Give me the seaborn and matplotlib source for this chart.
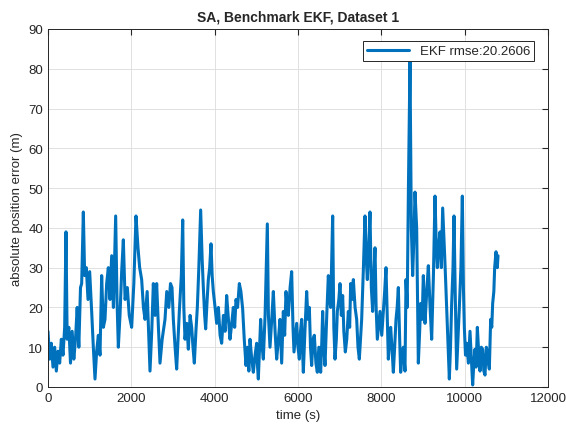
import numpy as np
import pandas as pd
import matplotlib
matplotlib.use('Agg')
import matplotlib.pyplot as plt
import seaborn as sns

# values (time in s, error in m)
time_s = [
    0, 40, 80, 120, 160, 200, 240, 280, 320, 360, 400, 432, 460, 500, 540, 580, 620, 660, 700, 740,
    780, 808, 848, 880, 920, 960, 1000, 1048, 1088, 1128, 1168, 1208, 1248, 1288, 1328, 1368, 1408,
    1448, 1488, 1528, 1570, 1624, 1656, 1688, 1728, 1768, 1808, 1850, 1904, 1950, 2008, 2060, 2112,
    2160, 2200, 2248, 2290, 2328, 2380, 2448, 2490, 2528, 2570, 2608, 2650, 2688, 2740, 2808, 2850,
    2900, 2940, 2976, 3008, 3050, 3088, 3120, 3152, 3200, 3233, 3260, 3288, 3330, 3368, 3410, 3448,
    3480, 3512, 3550, 3584, 3620, 3664, 3700, 3728, 3760, 3784, 3820, 3848, 3880, 3912, 3940, 3968,
    4010, 4048, 4090, 4130, 4168, 4210, 4250, 4288, 4330, 4368, 4410, 4448, 4480, 4512, 4550, 4592,
    4630, 4672, 4710, 4752, 4790, 4820, 4848, 4890, 4928, 4970, 5008, 5030, 5048, 5075, 5104, 5140,
    5168, 5210, 5264, 5290, 5328, 5370, 5408, 5450, 5488, 5530, 5568, 5608, 5648, 5680, 5712, 5740,
    5768, 5810, 5848, 5880, 5904, 5940, 5968, 6000, 6032, 6060, 6088, 6110, 6128, 6170, 6208, 6240,
    6272, 6300, 6328, 6360, 6392, 6430, 6464, 6500, 6544, 6570, 6592, 6620, 6648, 6690, 6728, 6760,
    6784, 6832, 6860, 6888, 6920, 6944, 6980, 7008, 7040, 7072, 7100, 7136, 7170, 7208, 7240, 7264,
    7300, 7328, 7370, 7408, 7440, 7472, 7500, 7528, 7570, 7608, 7640, 7664, 7700, 7728, 7760, 7792,
    7820, 7848, 7875, 7904, 7940, 7968, 8010, 8048, 8080, 8112, 8140, 8168, 8200, 8224, 8260, 8288,
    8320, 8352, 8380, 8408, 8440, 8464, 8500, 8528, 8568, 8592, 8620, 8650, 8688, 8720, 8752, 8780,
    8808, 8848, 8870, 8888, 8920, 8944, 8980, 9008, 9048, 9090, 9128, 9170, 9208, 9250, 9288, 9320,
    9344, 9380, 9408, 9440, 9472, 9500, 9528, 9560, 9584, 9610, 9632, 9660, 9688, 9720, 9744, 9776,
    9808, 9840, 9872, 9910, 9944, 9970, 9992, 10020, 10048, 10090, 10128, 10160, 10192, 10220, 10248,
    10275, 10304, 10340, 10368, 10400, 10432, 10460, 10488, 10520, 10544, 10570, 10592, 10624, 10650,
    10672, 10700, 10720, 10752, 10784, 10800,
]
error_m = [
    14, 7, 11, 5, 10, 4, 9, 6, 12, 8, 15, 39, 12, 15, 6, 14, 7, 12, 20, 10,
    25, 26, 44, 28, 30, 22, 29, 19, 10, 2, 9, 13, 8, 28, 15, 17, 26,
    30, 22, 33, 20, 43, 22, 10, 18, 29, 37, 22, 25, 18, 15, 26, 43,
    35, 30, 27, 20, 17, 24, 4, 14, 26, 18, 26, 15, 6, 12, 17, 24,
    20, 26, 25, 17, 10, 4.5, 12, 19, 28, 42, 20, 12, 16, 9.5, 18, 15,
    10, 6, 14, 20, 30, 44.5, 32, 25, 18, 14.6, 22, 27, 30, 36, 28, 24,
    20, 16, 20, 13, 11, 18, 14, 23, 17, 12, 16, 20, 15, 22, 20, 26,
    24, 19.6, 12, 5.4, 10, 4, 12, 7, 3.7, 8, 11, 5, 2, 9, 17, 10,
    7, 18, 41, 18, 10, 17, 24, 14, 7, 12, 17, 6, 19, 13, 24, 20,
    18, 25, 29, 15, 8.8, 13, 16, 10, 7, 14, 17, 9, 3.7, 15, 24, 17,
    20, 10, 5.4, 12, 13, 6, 3.7, 10, 3.7, 11, 19, 10, 5.4, 18, 28, 22,
    20, 43, 15, 7, 12, 19, 22, 26, 18, 23, 14, 8.8, 12, 19, 15, 26,
    22, 27, 20, 17, 10, 7, 12, 17, 30, 43, 32, 27, 36, 44, 25, 19,
    28, 35, 20, 12, 16, 19, 13, 19, 24, 30, 18, 7, 12, 15, 9, 3.7,
    10, 17, 20, 25, 12, 3.7, 8, 10, 4, 27, 20, 50, 82, 40, 28, 37,
    49, 40, 20, 6, 14, 21, 17, 28, 16, 24, 30.5, 20, 12, 28, 48, 35,
    30, 36, 39, 30, 45, 38, 31, 22, 15, 8, 2, 10, 21, 30, 43, 22,
    4.5, 12, 20, 30, 48, 25, 15, 8, 11, 6, 14, 7, 0.5, 6, 9.5,
    5, 15, 8, 4, 10, 9.5, 4, 3, 10, 9, 6, 4.5, 17, 15,
    21, 24, 30, 34, 30, 33,
]
legend_label = 'EKF rmse:20.2606'

df = pd.DataFrame({'time': time_s, 'error': error_m})

sns.set_style('white')
plt.rcParams['font.family'] = ['Liberation Sans', 'DejaVu Sans']

fig = plt.figure(figsize=(5.66, 4.31), dpi=100)
ax = fig.add_axes([0.0848, 0.0998, 0.8834, 0.8306])

sns.lineplot(data=df, x='time', y='error', ax=ax, color='#0072BD',
             linewidth=2.2, label=legend_label)

ax.set_xlim(0, 12000)
ax.set_ylim(0, 90)
ax.set_xticks(np.arange(0, 12001, 2000))
ax.set_yticks(np.arange(0, 91, 10))
ax.grid(True, color='#dcdcdc', linewidth=0.6)
ax.tick_params(direction='in', length=4, labelsize=9.5, colors='#262626',
               top=True, right=True)
for s in ax.spines.values():
    s.set_color('#262626')
    s.set_linewidth(0.7)

ax.set_xlabel('time (s)', fontsize=9.5, color='#262626')
ax.set_ylabel('absolute position error (m)', fontsize=9.5, color='#262626')
ax.set_title('SA, Benchmark EKF, Dataset 1', fontsize=10, fontweight='bold', pad=6)

leg = ax.legend(loc='upper right', fontsize=9.5, fancybox=False, framealpha=1,
                edgecolor='#262626', handlelength=3.2, borderpad=0.3,
                bbox_to_anchor=(0.985, 0.985))
leg.get_frame().set_linewidth(0.7)

fig.savefig('out.png', dpi=100)
plt.close()
